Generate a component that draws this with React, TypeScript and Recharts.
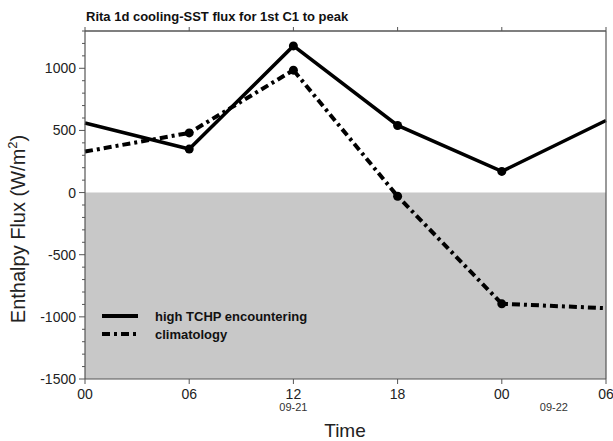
import React from "react";
import { LineChart, Line, XAxis, YAxis, ReferenceArea, Legend } from "recharts";

// ---- data ----
const hours = [0, 6, 12, 18, 24, 30];
const hourLabels = ["00", "06", "12", "18", "00", "06"];
const highTCHP = [560, 350, 1180, 540, 170, 580];
const climatology = [330, 480, 985, -30, -895, -930];
const dateTicks = [12, 27];
const dateLabels = ["09-21", "09-22"];
const yTicks = [
  -1500, -1400, -1300, -1200, -1100, -1000, -900, -800, -700, -600, -500, -400, -300, -200, -100,
  0, 100, 200, 300, 400, 500, 600, 700, 800, 900, 1000, 1100, 1200, 1300,
];
const yMajor = [-1500, -1000, -500, 0, 500, 1000];
const seriesNames = ["high TCHP encountering", "climatology"];

const data = hours.map((h, i) => ({ h, high: highTCHP[i], clim: climatology[i] }));

const FONT = "'Liberation Sans', Arial, Helvetica, sans-serif";
const AXIS = "#555";
const DASH = "8 4 3 4";

const LeftTick = (p: any) => {
  const v = p.payload.value;
  const major = yMajor.includes(v);
  return (
    <g>
      <line x1={p.x - (major ? 6 : 3)} x2={p.x} y1={p.y} y2={p.y} stroke={AXIS} strokeWidth={1} />
      {major && (
        <text x={p.x - 9} y={p.y} dy={5} textAnchor="end" fontSize={14} fontFamily={FONT} fill="#222">
          {v}
        </text>
      )}
    </g>
  );
};

const RightTick = (p: any) => {
  const v = p.payload.value;
  const major = yMajor.includes(v);
  return <line x1={p.x} x2={p.x + (major ? 5 : 3)} y1={p.y} y2={p.y} stroke={AXIS} strokeWidth={1} />;
};

const BottomTick = (p: any) => {
  const i = hours.indexOf(p.payload.value);
  return (
    <g>
      <line x1={p.x} x2={p.x} y1={p.y} y2={p.y + 5} stroke={AXIS} strokeWidth={1} />
      <text x={p.x} y={p.y + 20} textAnchor="middle" fontSize={14} fontFamily={FONT} fill="#222">
        {hourLabels[i]}
      </text>
    </g>
  );
};

const TopTick = (p: any) => (
  <line x1={p.x} x2={p.x} y1={p.y - 4} y2={p.y} stroke={AXIS} strokeWidth={1} />
);

const DateTick = (p: any) => {
  const i = dateTicks.indexOf(p.payload.value);
  return (
    <text x={p.x} y={p.y + 12} textAnchor="middle" fontSize={11} fontFamily={FONT} fill="#333">
      {dateLabels[i]}
    </text>
  );
};

const makeDot = (key: string) => (p: any) => {
  const idx = p.index;
  if (idx < 1 || idx > 4) return <g key={`${key}-${idx}`} />;
  return <circle key={`${key}-${idx}`} cx={p.cx} cy={p.cy} r={4.5} fill="#000" stroke="none" />;
};

const LegendContent = () => (
  <svg width={260} height={42} style={{ display: "block" }}>
    <line x1={7} x2={43} y1={11} y2={11} stroke="#000" strokeWidth={4} />
    <text x={60} y={15.5} fontSize={13} fontWeight="bold" fontFamily={FONT} fill="#111">
      {seriesNames[0]}
    </text>
    <line x1={7} x2={43} y1={29} y2={29} stroke="#000" strokeWidth={4} strokeDasharray={DASH} />
    <text x={60} y={33.5} fontSize={13} fontWeight="bold" fontFamily={FONT} fill="#111">
      {seriesNames[1]}
    </text>
  </svg>
);

export default function App() {
  return (
    <div style={{ position: "absolute", left: 0, top: 0, width: 613, height: 441, background: "#fff" }}>
      <LineChart width={613} height={441} data={data} margin={{ top: 27, right: 3, bottom: 27, left: 25 }}>
        <ReferenceArea
          x1={0}
          x2={30}
          y1={-1500}
          y2={0}
          fill="#c8c8c8"
          fillOpacity={1}
          stroke="none"
        />
        <XAxis
          dataKey="h"
          type="number"
          domain={[0, 30]}
          ticks={hours}
          interval={0}
          height={20}
          tickSize={0}
          tickMargin={0}
          tickLine={false}
          axisLine={{ stroke: AXIS, strokeWidth: 1.2 }}
          tick={BottomTick}
        />
        <XAxis
          xAxisId="d"
          dataKey="h"
          type="number"
          domain={[0, 30]}
          ticks={dateTicks}
          interval={0}
          height={15}
          tickSize={0}
          tickMargin={0}
          tickLine={false}
          axisLine={false}
          tick={DateTick}
        />
        <XAxis
          xAxisId="t"
          orientation="top"
          dataKey="h"
          type="number"
          domain={[0, 30]}
          ticks={hours}
          interval={0}
          height={4}
          tickSize={0}
          tickMargin={0}
          tickLine={false}
          axisLine={{ stroke: AXIS, strokeWidth: 1.5 }}
          tick={TopTick}
        />
        <YAxis
          type="number"
          domain={[-1500, 1300]}
          ticks={yTicks}
          interval={0}
          width={60}
          tickSize={0}
          tickMargin={0}
          tickLine={false}
          axisLine={{ stroke: AXIS, strokeWidth: 1.2 }}
          tick={LeftTick}
        />
        <YAxis
          yAxisId="r"
          orientation="right"
          type="number"
          domain={[-1500, 1300]}
          ticks={yTicks}
          interval={0}
          width={4}
          tickSize={0}
          tickMargin={0}
          tickLine={false}
          axisLine={{ stroke: AXIS, strokeWidth: 1.2 }}
          tick={RightTick}
        />
        <Line
          dataKey="high"
          name={seriesNames[0]}
          stroke="#000"
          strokeWidth={3.5}
          dot={makeDot("h")}
          activeDot={false}
          isAnimationActive={false}
        />
        <Line
          dataKey="clim"
          name={seriesNames[1]}
          stroke="#000"
          strokeWidth={4}
          strokeDasharray={DASH}
          dot={makeDot("c")}
          activeDot={false}
          isAnimationActive={false}
        />
        <Legend
          layout="vertical"
          align="center"
          verticalAlign="middle"
          wrapperStyle={{ left: 95, top: 305, width: 260, height: 42 }}
          content={LegendContent}
        />
      </LineChart>
      <svg
        width={613}
        height={441}
        style={{ position: "absolute", left: 0, top: 0, pointerEvents: "none" }}
      >
        <text x={86} y={21} fontSize={13} fontWeight="bold" fontFamily={FONT} fill="#111">
          Rita 1d cooling-SST flux for 1st C1 to peak
        </text>
        <text
          x={345}
          y={437}
          textAnchor="middle"
          fontSize={19}
          fontFamily={FONT}
          fill="#222"
        >
          Time
        </text>
        <text
          transform="translate(25,229) rotate(-90)"
          textAnchor="middle"
          fontSize={20}
          fontFamily={FONT}
          fill="#222"
        >
          Enthalpy Flux (W/m
          <tspan dy={-8} fontSize={13}>2</tspan>
          <tspan dy={8}>)</tspan>
        </text>
      </svg>
    </div>
  );
}
